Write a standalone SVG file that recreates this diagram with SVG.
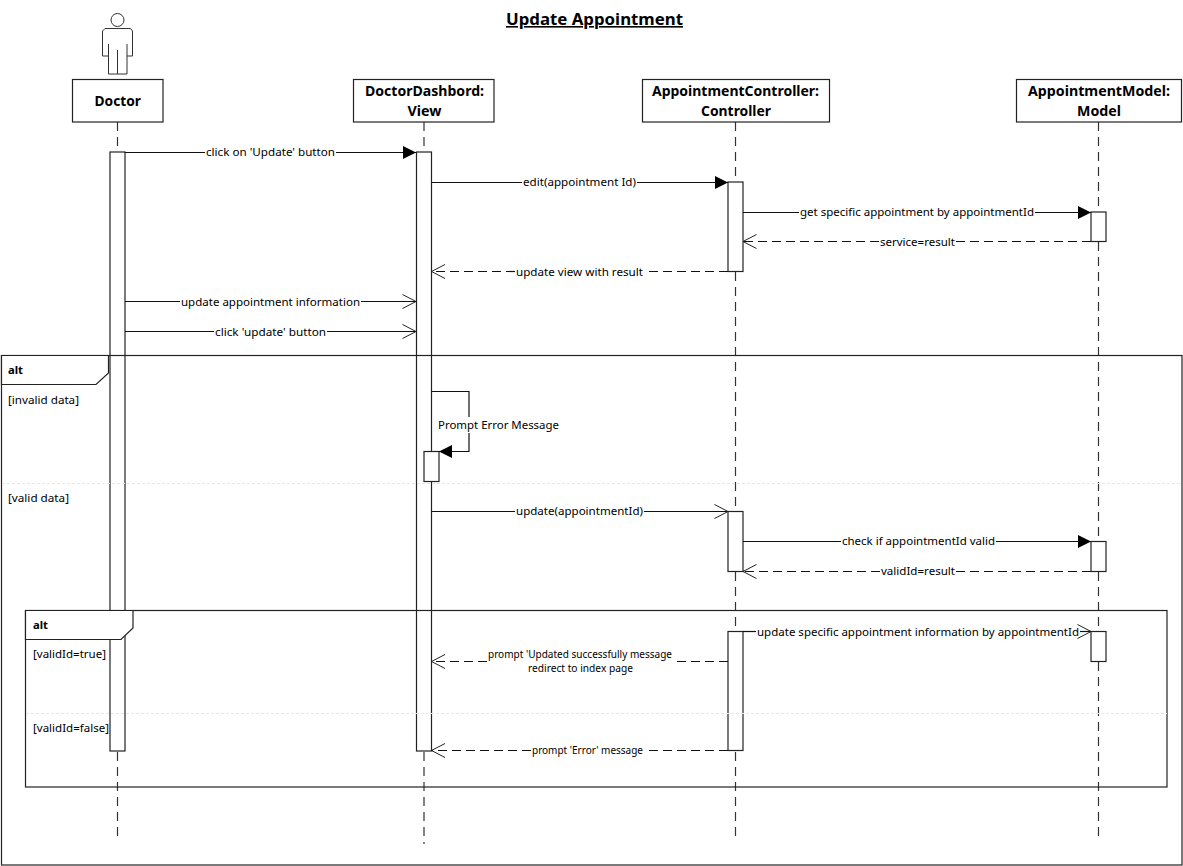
<svg xmlns="http://www.w3.org/2000/svg" width="1183" height="866" viewBox="0 0 1183 866">
<style>
text{font-family:"Noto Sans","Open Sans","DejaVu Sans",sans-serif;fill:#000}
.m{font-size:11px}
.s{font-size:10px}
.n{font-size:15px;font-weight:700}
.g{font-size:11px}
.b{font-size:11px;font-weight:700}
.box,.act,.tab{fill:#fff;stroke:#222;stroke-width:1.200}
.life{fill:none;stroke:#333;stroke-width:1.200;stroke-dasharray:9 6}
.msg{fill:none;stroke:#111;stroke-width:1.200}
.ret{fill:none;stroke:#111;stroke-width:1.200;stroke-dasharray:9 5}
.frame{fill:none;stroke:#222;stroke-width:1.200}
.sep{fill:none;stroke:#e6e6e6;stroke-width:1;stroke-dasharray:3 2}
.actor{fill:none;stroke:#333;stroke-width:1}
</style>
<defs>
<marker id="fill" markerUnits="userSpaceOnUse" markerWidth="14" markerHeight="14" refX="13" refY="7" orient="auto"><path d="M0 0.5L13 7L0 13.500Z" fill="#000"/></marker>
<marker id="open" markerUnits="userSpaceOnUse" markerWidth="15" markerHeight="16" refX="14" refY="8" orient="auto"><path d="M0.500 1L14 8L0.500 15" fill="none" stroke="#222"/></marker>
</defs>
<rect width="1183" height="866" fill="#fff"/>
<text id="title" x="506" y="25" font-size="16" font-weight="700" text-decoration="underline" textLength="177" lengthAdjust="spacingAndGlyphs">Update Appointment</text>
<g id="lifelines">
<path class="life" d="M117.500 122V836"/>
<path class="life" d="M424 122V844"/>
<path class="life" d="M735.500 122V836"/>
<path class="life" d="M1098.500 122V836"/>
</g>
<g id="activations">
<rect class="act" x="110" y="152" width="15" height="599"/>
<rect class="act" x="416.500" y="152" width="15" height="599"/>
<rect class="act" x="424" y="451.500" width="15" height="30"/>
<rect class="act" x="728" y="182" width="15" height="89.500"/>
<rect class="act" x="728" y="511.500" width="15" height="60"/>
<rect class="act" x="728" y="631.500" width="15" height="119"/>
<rect class="act" x="1091" y="212" width="15" height="29.500"/>
<rect class="act" x="1091" y="541.500" width="15" height="30"/>
<rect class="act" x="1091" y="631.500" width="15" height="30"/>
</g>
<g id="frame-outer">
<rect class="frame" x="1.500" y="355.500" width="1180.500" height="509.500"/>
<path class="tab" d="M1.500 355.500H108.500V373L96 384.500H1.500Z"/>
<text class="b" x="8" y="374" textLength="15" lengthAdjust="spacingAndGlyphs">alt</text>
<text class="g" x="8" y="404" textLength="71" lengthAdjust="spacingAndGlyphs">[invalid data]</text>
<path class="sep" d="M2 483.500H1182"/>
<text class="g" x="8" y="502" textLength="61" lengthAdjust="spacingAndGlyphs">[valid data]</text>
</g>
<g id="frame-inner">
<rect class="frame" x="25.500" y="610.500" width="1141.500" height="176.500"/>
<path class="tab" d="M25.500 610.500H133V628L121 639.500H25.500Z"/>
<text class="b" x="33" y="629" textLength="15" lengthAdjust="spacingAndGlyphs">alt</text>
<text class="g" x="33" y="658" textLength="73" lengthAdjust="spacingAndGlyphs">[validId=true]</text>
<path class="sep" d="M26 713.500H1167"/>
<text class="g" x="33" y="732" textLength="76" lengthAdjust="spacingAndGlyphs">[validId=false]</text>
</g>
<g id="connectors">
<path class="msg" d="M125 152.500H205"/><path class="msg" d="M336 152.500H416" marker-end="url(#fill)"/>
<path class="msg" d="M431.500 182.500H522"/><path class="msg" d="M637 182.500H728" marker-end="url(#fill)"/>
<path class="msg" d="M743 212.500H799"/><path class="msg" d="M1035 212.500H1091" marker-end="url(#fill)"/>
<path class="ret" d="M1091 241.500H956"/><path class="ret" d="M879 241.500H743" marker-end="url(#open)"/>
<path class="ret" d="M728 271.500H644"/><path class="ret" d="M515 271.500H431.500" marker-end="url(#open)"/>
<path class="msg" d="M125 301.500H180"/><path class="msg" d="M361 301.500H416" marker-end="url(#open)"/>
<path class="msg" d="M125 331.500H214"/><path class="msg" d="M327 331.500H416" marker-end="url(#open)"/>
<path class="msg" d="M431.500 391.500H469V417"/><path class="msg" d="M469 433V451.500H439" marker-end="url(#fill)"/>
<path class="msg" d="M431.500 511.500H515"/><path class="msg" d="M644 511.500H728" marker-end="url(#open)"/>
<path class="msg" d="M743 541.500H841"/><path class="msg" d="M996 541.500H1091" marker-end="url(#fill)"/>
<path class="ret" d="M1091 571.500H956"/><path class="ret" d="M880 571.500H743" marker-end="url(#open)"/>
<path class="msg" d="M743 631.500H756"/><path class="msg" d="M1080 631.500H1091" marker-end="url(#open)"/>
<path class="ret" d="M728 661.500H673"/><path class="ret" d="M487 661.500H431.500" marker-end="url(#open)"/>
<path class="ret" d="M728 750.500H644"/><path class="ret" d="M531 750.500H431.500" marker-end="url(#open)"/>
</g>
<g id="labels">
<text class="m" x="206" y="156" textLength="129" lengthAdjust="spacingAndGlyphs">click on 'Update' button</text>
<text class="m" x="523" y="186" textLength="113" lengthAdjust="spacingAndGlyphs">edit(appointment Id)</text>
<text class="m" x="800" y="216" textLength="234" lengthAdjust="spacingAndGlyphs">get specific appointment by appointmentId</text>
<text class="m" x="880" y="246" textLength="75" lengthAdjust="spacingAndGlyphs">service=result</text>
<text class="m" x="516" y="276" textLength="127" lengthAdjust="spacingAndGlyphs">update view with result</text>
<text class="m" x="181" y="306" textLength="179" lengthAdjust="spacingAndGlyphs">update appointment information</text>
<text class="m" x="215" y="336" textLength="111" lengthAdjust="spacingAndGlyphs">click 'update' button</text>
<text class="m" x="438" y="429" textLength="121" lengthAdjust="spacingAndGlyphs">Prompt Error Message</text>
<text class="m" x="516" y="515" textLength="127" lengthAdjust="spacingAndGlyphs">update(appointmentId)</text>
<text class="m" x="842" y="545" textLength="153" lengthAdjust="spacingAndGlyphs">check if appointmentId valid</text>
<text class="m" x="881" y="575" textLength="74" lengthAdjust="spacingAndGlyphs">validId=result</text>
<text class="m" x="757" y="636" textLength="322" lengthAdjust="spacingAndGlyphs">update specific appointment information by appointmentId</text>
<text class="s" x="488" y="658" textLength="184" lengthAdjust="spacingAndGlyphs">prompt 'Updated successfully message</text>
<text class="s" x="528" y="672" textLength="105" lengthAdjust="spacingAndGlyphs">redirect to index page</text>
<text class="s" x="532" y="754" textLength="111" lengthAdjust="spacingAndGlyphs">prompt 'Error' message</text>
</g>
<g id="actor-figure">
<circle class="actor" cx="117.500" cy="20" r="6.500"/>
<path class="actor" d="M105 28.500H130.500L132.500 31V56H127M127 44V74H108.500V44M108.500 56H102.500V31L105 28.500M117.500 50V74"/>
</g>
<g id="node-doctor">
<rect class="box" x="72.500" y="79.500" width="90.500" height="42.500"/>
<text class="n" x="94.500" y="106" textLength="46.500" lengthAdjust="spacingAndGlyphs">Doctor</text>
</g>
<g id="node-view">
<rect class="box" x="353.500" y="79.500" width="140.500" height="42.500"/>
<text class="n" x="365" y="96" textLength="119" lengthAdjust="spacingAndGlyphs">DoctorDashbord:</text>
<text class="n" x="407.500" y="116" textLength="34" lengthAdjust="spacingAndGlyphs">View</text>
</g>
<g id="node-controller">
<rect class="box" x="642.500" y="79.500" width="187" height="42.500"/>
<text class="n" x="652" y="96" textLength="167" lengthAdjust="spacingAndGlyphs">AppointmentController:</text>
<text class="n" x="701" y="116" textLength="70" lengthAdjust="spacingAndGlyphs">Controller</text>
</g>
<g id="node-model">
<rect class="box" x="1016.500" y="79.500" width="165" height="42.500"/>
<text class="n" x="1028" y="96" textLength="142" lengthAdjust="spacingAndGlyphs">AppointmentModel:</text>
<text class="n" x="1077" y="116" textLength="44" lengthAdjust="spacingAndGlyphs">Model</text>
</g>
</svg>
